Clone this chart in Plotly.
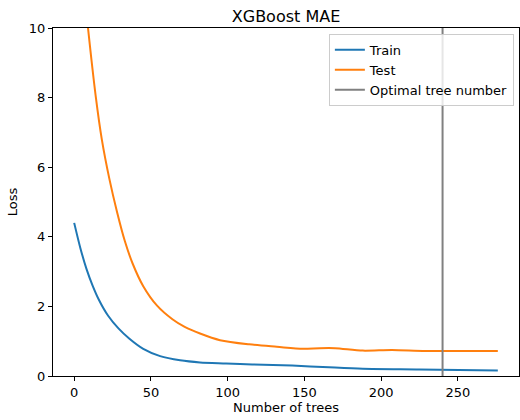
import plotly.graph_objects as go

# Boosting rounds and the MAE recorded at each of them
train_trees = [0, 4, 8, 12, 16, 22, 29, 36, 45, 56, 69, 82, 99, 116, 142, 166, 188, 225, 276]
train_mae = [4.40, 3.68, 3.08, 2.60, 2.20, 1.74, 1.36, 1.07, 0.78, 0.57, 0.45, 0.39, 0.36, 0.33,
             0.30, 0.25, 0.21, 0.19, 0.16]

test_trees = [0, 4, 9, 14, 18, 23, 28, 33, 38, 45, 54, 64, 72, 82, 95, 114, 132, 149, 160, 170,
              188, 207, 229, 276]
test_mae = [14.6, 12.2, 10.0, 8.05, 6.80, 5.65, 4.70, 3.88, 3.24, 2.58, 2.02, 1.63, 1.41, 1.22,
            1.03, 0.91, 0.84, 0.78, 0.80, 0.80, 0.73, 0.75, 0.72, 0.72]

optimal_tree = 240
loss_limits = [0, 10]

x_ticks = [0, 50, 100, 150, 200, 250]
y_ticks = [0, 2, 4, 6, 8, 10]

fig = go.Figure()
fig.add_trace(go.Scatter(x=train_trees, y=train_mae, mode="lines", name="Train",
                         line=dict(color="#1f77b4", width=2, shape="spline", smoothing=0.8)))
fig.add_trace(go.Scatter(x=test_trees, y=test_mae, mode="lines", name="Test",
                         line=dict(color="#ff7f0e", width=2, shape="spline", smoothing=0.8)))
fig.add_trace(go.Scatter(x=[optimal_tree, optimal_tree], y=[-1, 11], mode="lines",
                         name="Optimal tree number", line=dict(color="#808080", width=2)))

# 5% padding either side of the data, like the usual autoscale
span = max(train_trees + test_trees) - min(train_trees + test_trees)
x_range = [min(train_trees) - 0.05 * span, max(train_trees) + 0.05 * span]

font = "DejaVu Sans, Liberation Sans, sans-serif"
axis_common = dict(showline=True, linecolor="black", linewidth=1, mirror=True,
                   ticks="outside", ticklen=4, tickcolor="black", tickwidth=1,
                   showgrid=False, zeroline=False,
                   tickfont=dict(family=font, size=13, color="black"))

fig.update_layout(
    width=520, height=420,
    margin=dict(l=53, r=1, t=28, b=44),
    paper_bgcolor="white", plot_bgcolor="white",
    font=dict(family=font, color="black"),
    title=dict(text="XGBoost MAE", x=0.5, xref="paper", y=1, yref="paper",
               xanchor="center", yanchor="bottom", pad=dict(b=6),
               font=dict(family=font, size=16, color="black")),
    xaxis=dict(range=x_range, tickvals=x_ticks,
               title=dict(text="Number of trees", standoff=4,
                          font=dict(family=font, size=13, color="black")),
               **axis_common),
    yaxis=dict(range=loss_limits, tickvals=y_ticks,
               title=dict(text="Loss", standoff=8,
                          font=dict(family=font, size=13, color="black")),
               **axis_common),
    legend=dict(x=0.989, y=0.983, xanchor="right", yanchor="top",
                bgcolor="rgba(255,255,255,0.8)", bordercolor="#cccccc", borderwidth=1,
                font=dict(family=font, size=13, color="black"),
                itemwidth=30, tracegroupgap=0),
    showlegend=True,
)

fig.write_html("out.html")
